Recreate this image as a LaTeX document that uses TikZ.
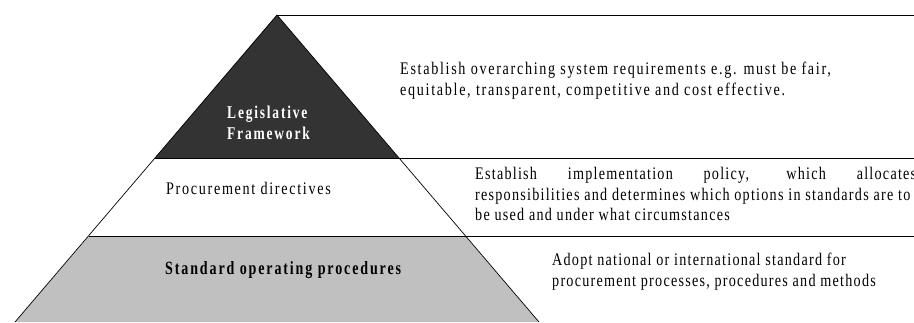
\documentclass[tikz,border=0pt]{standalone}
\usepackage{fontspec}
\setmainfont[LetterSpace=9.5,FakeStretch=0.8]{Liberation Serif}
\newfontfamily\headfont[LetterSpace=10,FakeStretch=0.75]{Liberation Serif}
\definecolor{apexgray}{RGB}{51,51,51}
\definecolor{basegray}{RGB}{192,192,192}
\begin{document}
\begin{tikzpicture}[x=1pt,y=-1pt,
  levellabel/.style={inner sep=0pt,anchor=west,align=left,font=\fontsize{17.7}{20.7}\selectfont},
  headlabel/.style={levellabel,font=\headfont\bfseries\fontsize{18.7}{20.7}\selectfont},
  note/.style={inner sep=0pt,anchor=north west,align=left,font=\fontsize{17.7}{20.7}\selectfont},
  tightnote/.style={note,font=\fontsize{17.7}{20.7}\selectfont\addfontfeatures{LetterSpace=7}},
  levelline/.style={line width=1pt}]
\useasboundingbox (0,0) rectangle (914,322);

% pyramid corners
\coordinate (apex) at (277,15);
\coordinate (topl) at (155,158);
\coordinate (topr) at (399,158);
\coordinate (midl) at (89,236);
\coordinate (midr) at (465,236);
\coordinate (botl) at (15,322);
\coordinate (botr) at (539,322);

\fill[basegray] (midl) -- (midr) -- (botr) -- (botl) -- cycle;
\fill[apexgray] (apex) -- (topl) -- (topr) -- cycle;
\draw[line width=0.7pt] (botl) -- (apex) -- (botr);

% level lines
\draw[levelline] (apex) -- (914,15);
\draw[levelline] (topl) -- (914,158);
\draw[levelline] (midl) -- (914,236);

\node[headlabel,text=white,font=\headfont\bfseries\fontsize{18}{20.7}\selectfont] (legis) at (227,122.5) {Legislative\\Framework};
\node[levellabel] (direct) at (166,188) {Procurement directives};
\node[headlabel] (sop) at (165,270.5) {Standard operating procedures};

\node[note] (legisnote) at (400,62) {Establish overarching system requirements e.g. must be fair,\\equitable, transparent, competitive and cost effective.};
\node[tightnote] (directnote) at (475,167) {\makebox[441pt][s]{Establish implementation policy, which allocates}\\responsibilities and determines which options in standards are to\\be used and under what circumstances};
\node[tightnote] (sopnote) at (552,253) {Adopt national or international standard for\\procurement processes, procedures and methods};
\end{tikzpicture}
\end{document}
